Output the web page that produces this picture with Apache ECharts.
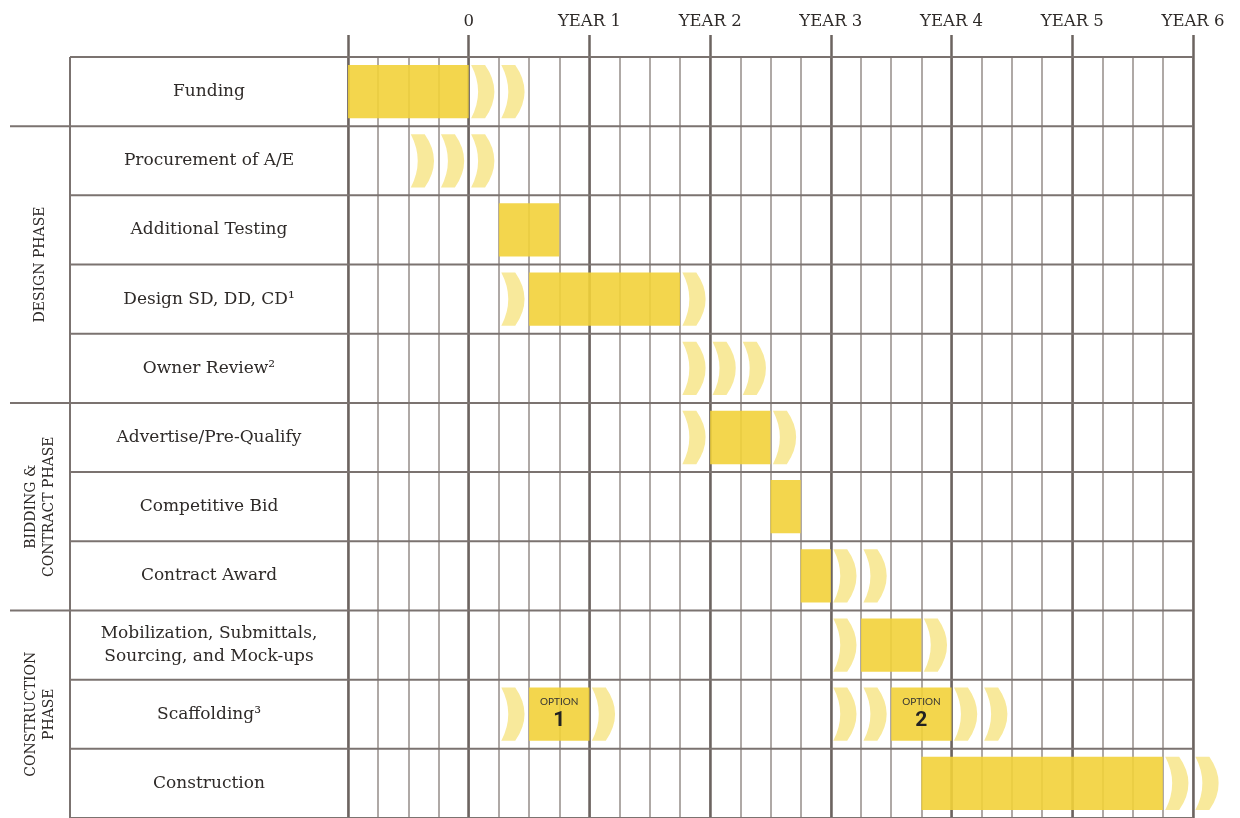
<!DOCTYPE html>
<html>
<head>
<meta charset="utf-8">
<script src="https://cdn.jsdelivr.net/npm/echarts@6/dist/echarts.min.js"></script>
<style>
  html, body { margin: 0; padding: 0; background: #fff; }
  #main { width: 1240px; height: 818px; }
</style>
</head>
<body>
<div id="main"></div>
<script>
// rows of the schedule, top to bottom
var tasks = [
  'Funding',
  'Procurement of A/E',
  'Additional Testing',
  'Design SD, DD, CD¹',
  'Owner Review²',
  'Advertise/Pre-Qualify',
  'Competitive Bid',
  'Contract Award',
  'Mobilization, Submittals,\nSourcing, and Mock-ups',
  'Scaffolding³',
  'Construction'
];

// time is counted in quarters, 0 = start of year 1
var yearTicks = [-4, 0, 4, 8, 12, 16, 20, 24];
var yearLabels = ['', '0', 'YEAR 1', 'YEAR 2', 'YEAR 3', 'YEAR 4', 'YEAR 5', 'YEAR 6'];

// solid bars: row, start quarter, end quarter, option tag
var barRows   = [0, 2, 3, 5, 6, 7, 8, 9, 9, 10];
var barStart  = [-4, 1, 2, 8, 10, 11, 13, 2, 14, 15];
var barEnd    = [0, 3, 7, 10, 11, 12, 15, 4, 16, 23];
var barOption = ['', '', '', '', '', '', '', '1', '2', ''];

// light chevrons: row and the quarter they sit in
var arrowRows  = [0, 0, 1, 1, 1, 3, 3, 4, 4, 4, 5, 5, 7, 7, 8, 8, 9, 9, 9, 9, 9, 9, 10, 10];
var arrowCells = [0, 1, -2, -1, 0, 1, 7, 7, 8, 9, 7, 10, 12, 13, 12, 15, 1, 4, 12, 13, 16, 17, 23, 24];

// phase groups in the left column
var phaseNames = ['DESIGN PHASE', 'BIDDING &\nCONTRACT PHASE', 'CONSTRUCTION\nPHASE'];
var phaseFirst = [1, 5, 8];
var phaseLast  = [4, 7, 10];

var lineColor = '#7b7370';
var serif = 'DejaVu Serif';

var barData = barRows.map(function (r, i) {
  return [barStart[i], barEnd[i], r];
});
var arrowData = arrowRows.map(function (r, i) {
  return [arrowCells[i], r];
});
var phaseData = phaseNames.map(function (n, i) {
  return [phaseFirst[i], phaseLast[i]];
});

var chart = echarts.init(document.getElementById('main'));

function renderFrame(params, api) {
  var cs = params.coordSys;
  var band = api.size([0, 1])[1];
  var labelLeft = cs.x - 278;
  var right = cs.x + cs.width;
  var kids = [{
    type: 'line',
    shape: { x1: labelLeft, y1: cs.y, x2: labelLeft, y2: cs.y + cs.height },
    style: { stroke: lineColor, lineWidth: 2 }
  }];
  for (var i = 0; i <= tasks.length; i++) {
    var y = cs.y + i * band;
    var isPhase = phaseFirst.indexOf(i) >= 0;
    kids.push({
      type: 'line',
      shape: { x1: isPhase ? labelLeft - 60 : labelLeft, y1: y, x2: right, y2: y },
      style: { stroke: lineColor, lineWidth: 2 }
    });
  }
  return { type: 'group', children: kids };
}

function renderPhase(params, api) {
  var top = api.coord([-4, api.value(0)]);
  var bot = api.coord([-4, api.value(1)]);
  var cy = (top[1] + bot[1]) / 2;
  return {
    type: 'text',
    x: top[0] - 308,
    y: cy,
    rotation: Math.PI / 2,
    style: {
      text: phaseNames[params.dataIndex],
      fontFamily: serif,
      fontSize: 14,
      lineHeight: 18,
      fill: '#2e2a28',
      align: 'center',
      verticalAlign: 'middle'
    }
  };
}

function renderBar(params, api) {
  var s = api.coord([api.value(0), api.value(2)]);
  var e = api.coord([api.value(1), api.value(2)]);
  var h = api.size([0, 1])[1] * 0.77;
  var opt = barOption[params.dataIndex];
  var el = {
    type: 'rect',
    shape: { x: s[0], y: s[1] - h / 2, width: e[0] - s[0], height: h },
    style: { fill: '#f2d23a', opacity: 0.9 }
  };
  if (opt) {
    el.textContent = {
      style: {
        text: '{a|OPTION}\n{b|' + opt + '}',
        align: 'center',
        rich: {
          a: { fontFamily: 'Lato', fontSize: 10, fill: '#333', lineHeight: 14 },
          b: { fontFamily: 'Roboto', fontSize: 21, fontWeight: 'bold', fill: '#222', lineHeight: 24 }
        }
      }
    };
    el.textConfig = { position: 'inside' };
  }
  return el;
}

function renderArrow(params, api) {
  var cell = api.value(0);
  var a = api.coord([cell + 0.08, api.value(1)]);
  var b = api.coord([cell + 0.85, api.value(1)]);
  var h = api.size([0, 1])[1] * 0.77;
  var w = b[0] - a[0];
  var x0 = a[0], y0 = a[1] - h / 2;
  var p = 'M' + x0 + ' ' + y0 +
    ' L' + (x0 + 0.6 * w) + ' ' + y0 +
    ' Q' + (x0 + 1.4 * w) + ' ' + (y0 + h / 2) + ' ' + (x0 + 0.6 * w) + ' ' + (y0 + h) +
    ' L' + x0 + ' ' + (y0 + h) +
    ' Q' + (x0 + 0.6 * w) + ' ' + (y0 + h / 2) + ' ' + x0 + ' ' + y0 + ' Z';
  return {
    type: 'path',
    shape: { pathData: p },
    style: { fill: '#f6e27a', opacity: 0.75 }
  };
}

chart.setOption({
  backgroundColor: '#fff',
  animation: false,
  grid: { left: 348, right: 47, top: 57, height: 762 },
  xAxis: [{
    type: 'value', min: -4, max: 24, interval: 1, position: 'top',
    axisLine: { show: false }, axisTick: { show: false }, axisLabel: { show: false },
    splitLine: { show: true, lineStyle: { color: '#958d89', width: 1.5 } }
  }, {
    type: 'value', min: -4, max: 24, interval: 4, position: 'top',
    axisLine: { show: false },
    axisTick: { show: true, length: 22, lineStyle: { color: '#6c6460', width: 2.5 } },
    axisLabel: {
      show: true, margin: 27, showMinLabel: true, showMaxLabel: true,
      fontFamily: serif, fontSize: 16.5, color: '#2e2a28',
      formatter: function (v) { return yearLabels[yearTicks.indexOf(v)]; }
    },
    splitLine: { show: true, lineStyle: { color: '#6c6460', width: 2.5 } }
  }],
  yAxis: {
    type: 'category', data: tasks, inverse: true,
    axisLine: { show: false }, axisTick: { show: false }, splitLine: { show: false },
    axisLabel: {
      align: 'center', margin: 139,
      fontFamily: serif, fontSize: 17, lineHeight: 23, color: '#2e2a28'
    }
  },
  series: [{
    type: 'custom', name: 'frame', renderItem: renderFrame, data: [[0, 0]],
    clip: false, silent: true, z: 1
  }, {
    type: 'custom', name: 'phases', renderItem: renderPhase, data: phaseData,
    clip: false, silent: true, z: 1
  }, {
    type: 'custom', name: 'arrows', renderItem: renderArrow, data: arrowData,
    encode: { x: 0, y: 1 }, clip: false, z: 3
  }, {
    type: 'custom', name: 'bars', renderItem: renderBar, data: barData,
    encode: { x: [0, 1], y: 2 }, clip: false, z: 4
  }]
});
</script>
</body>
</html>
